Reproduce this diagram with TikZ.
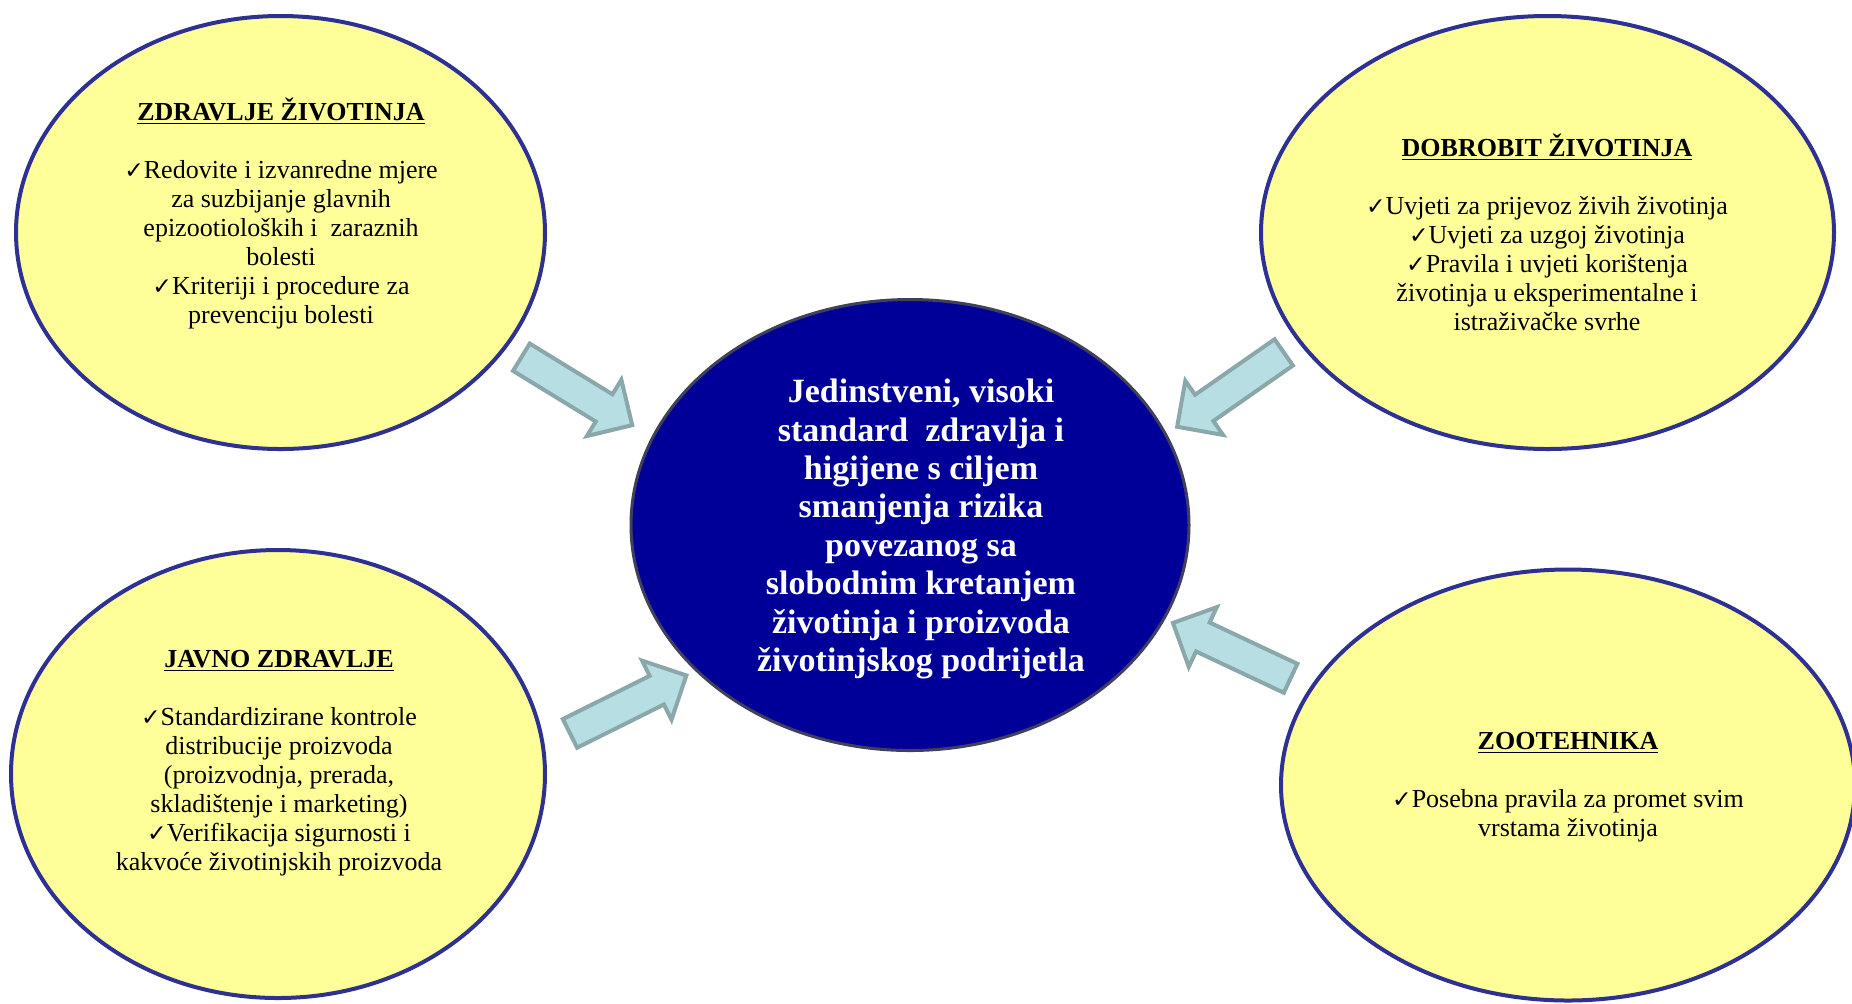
\documentclass[tikz,border=0pt]{standalone}
\usepackage{fontspec}
\setmainfont{Liberation Serif}
\newfontfamily\chkfont{DejaVu Sans}[Scale=0.9]
\usetikzlibrary{shapes.geometric,shapes.arrows}
\definecolor{topicfill}{RGB}{255,255,153}
\definecolor{topicline}{RGB}{46,49,146}
\definecolor{corefill}{RGB}{0,0,153}
\definecolor{coreline}{RGB}{64,64,92}
\definecolor{pushfill}{RGB}{183,222,226}
\definecolor{pushline}{RGB}{138,168,170}
\newcommand{\chk}{{\chkfont ✓}}

\begin{document}
\begin{tikzpicture}[x=0.5pt,y=-0.5pt]
    \tikzset{topic/.style = {shape=ellipse, draw=topicline, fill=topicfill, line width=2pt, inner sep=0pt}}
    \tikzset{core/.style = {shape=ellipse, draw=coreline, fill=corefill, line width=1.5pt, inner sep=0pt, minimum width=279pt, minimum height=225.5pt}}
    \tikzset{topictext/.style = {align=center, font=\fontsize{13}{14.5}\selectfont}}
    \tikzset{coretext/.style = {align=center, text=white, font=\fontsize{17}{19.2}\selectfont\bfseries}}
    \tikzset{push/.style = {shape=single arrow, draw=pushline, fill=pushfill, line width=2pt, inner ysep=7pt, inner xsep=0pt, minimum height=65pt, single arrow head extend=8.5pt, single arrow tip angle=90}}

    \useasboundingbox (0,0) rectangle (1852,1003);
    \clip (0,0) rectangle (1852,1003);

    % topics
    \node[topic, minimum width=264.5pt, minimum height=216.5pt] (zdravlje) at (280.5,232.5) {};
    \node[topic, minimum width=286.5pt, minimum height=216.5pt] (dobrobit) at (1547.5,232.5) {};
    \node[topic, minimum width=267pt, minimum height=224pt] (javno) at (278,774) {};
    \node[topic, minimum width=287pt, minimum height=215.5pt] (zootehnika) at (1568,785) {};

    % core
    \node[core] (jedinstveni) at (910,525) {};

    % texts
    \node[topictext] (zdravljeTxt) at (281,213.5) {\underline{\textbf{ZDRAVLJE ŽIVOTINJA}}\\[14.5pt]
        \chk Redovite i izvanredne mjere\\ za suzbijanje glavnih\\ epizootioloških i\ \ zaraznih\\ bolesti\\
        \chk Kriteriji i procedure za\\ prevenciju bolesti};
    \node[topictext] (dobrobitTxt) at (1547,232.5) {\underline{\textbf{DOBROBIT ŽIVOTINJA}}\\[14.5pt]
        \chk Uvjeti za prijevoz živih životinja\\ \chk Uvjeti za uzgoj životinja\\
        \chk Pravila i uvjeti korištenja\\ životinja u eksperimentalne i\\ istraživačke svrhe};
    \node[topictext] (javnoTxt) at (279,763) {\underline{\textbf{JAVNO ZDRAVLJE}}\\[14.5pt]
        \chk Standardizirane kontrole\\ distribucije proizvoda\\ (proizvodnja, prerada,\\ skladištenje i marketing)\\
        \chk Verifikacija sigurnosti i\\ kakvoće životinjskih proizvoda};
    \node[topictext] (zootehnikaTxt) at (1568,787) {\underline{\textbf{ZOOTEHNIKA}}\\[14.5pt]
        \chk Posebna pravila za promet svim\\ vrstama životinja};
    \node[coretext] (jedinstveniTxt) at (921,529) {Jedinstveni, visoki\\ standard\ \ zdravlja i\\ higijene s ciljem\\ smanjenja rizika\\
        povezanog sa\\ slobodnim kretanjem\\ životinja i proizvoda\\ životinjskog podrijetla};

    % arrows
    \node[push, rotate=-31.5] (pushZdravlje) at (570,387) {};
    \node[push, rotate=-145.1] (pushDobrobit) at (1237,385) {};
    \node[push, rotate=26.5] (pushJavno) at (621,708) {};
    \node[push, rotate=154.8] (pushZootehnika) at (1239,654) {};
\end{tikzpicture}
\end{document}
